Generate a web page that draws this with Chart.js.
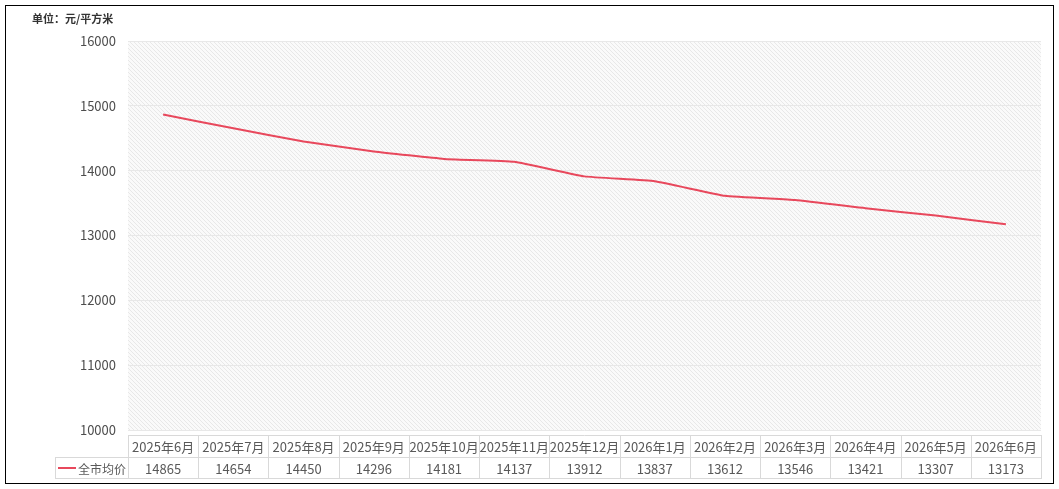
<!DOCTYPE html>
<html>
<head>
<meta charset="utf-8">
<script src="https://cdn.jsdelivr.net/npm/chart.js@4"></script>
<style>
  body { margin: 0; background: #fff; }
  #box { position: absolute; left: 5px; top: 5px; width: 1047px; height: 477px; border: 1px solid #000; }
  canvas { display: block; }
</style>
</head>
<body>
<div id="box"><canvas id="myChart" width="1047" height="477"></canvas></div>
<script>
const months = ['2025年6月', '2025年7月', '2025年8月', '2025年9月', '2025年10月', '2025年11月', '2025年12月',
  '2026年1月', '2026年2月', '2026年3月', '2026年4月', '2026年5月', '2026年6月'];
const avgPrice = [14865, 14654, 14450, 14296, 14181, 14137, 13912, 13837, 13612, 13546, 13421, 13307, 13173];
const seriesName = '全市均价';
const unitText = '单位：元/平方米';

const lineColor = 'rgb(232, 72, 92)';
const fontFamily = '"Noto Sans CJK SC", "Noto Sans", sans-serif';

// diagonal hatch for the plot area
const makeHatch = (ctx) => {
  const p = document.createElement('canvas');
  p.width = 4;
  p.height = 4;
  const pc = p.getContext('2d');
  pc.fillStyle = '#fafafa';
  pc.fillRect(0, 0, 4, 4);
  pc.fillStyle = '#e8e8e8';
  for (let i = 0; i < 4; i++) pc.fillRect(i, i, 1, 1);
  return ctx.createPattern(p, 'repeat');
};

const plotBackground = {
  id: 'plotBackground',
  beforeDraw(chart) {
    const { ctx, chartArea } = chart;
    ctx.save();
    ctx.fillStyle = makeHatch(ctx);
    ctx.fillRect(chartArea.left, chartArea.top, chartArea.right - chartArea.left, chartArea.bottom - chartArea.top);
    ctx.restore();
  },
};

const unitTitle = {
  id: 'unitTitle',
  afterDraw(chart) {
    const ctx = chart.ctx;
    ctx.save();
    ctx.font = 'bold 11px ' + fontFamily;
    ctx.fillStyle = '#333';
    ctx.textBaseline = 'middle';
    ctx.fillText(unitText, 26, 13);
    ctx.restore();
  },
};

// data table under the x axis, built from the x scale
const dataTable = {
  id: 'dataTable',
  afterDraw(chart) {
    const { ctx, chartArea } = chart;
    const x = chart.scales.x;
    const half = (x.getPixelForValue(1) - x.getPixelForValue(0)) / 2;
    const top = chartArea.bottom + 5;
    const rowH = 22;
    const legendLeft = 49;
    ctx.save();
    ctx.strokeStyle = '#d9d9d9';
    ctx.lineWidth = 1;
    ctx.beginPath();
    // horizontal lines
    ctx.moveTo(chartArea.left, top + 0.5);
    ctx.lineTo(chartArea.right, top + 0.5);
    ctx.moveTo(legendLeft, top + rowH + 0.5);
    ctx.lineTo(chartArea.right, top + rowH + 0.5);
    ctx.moveTo(legendLeft, top + rowH * 2 - 0.5);
    ctx.lineTo(chartArea.right, top + rowH * 2 - 0.5);
    // vertical lines
    ctx.moveTo(legendLeft + 0.5, top + rowH);
    ctx.lineTo(legendLeft + 0.5, top + rowH * 2);
    for (let i = 0; i <= months.length; i++) {
      const px = Math.round(x.getPixelForValue(i) - half) + 0.5;
      ctx.moveTo(px, top);
      ctx.lineTo(px, top + rowH * 2);
    }
    ctx.stroke();

    ctx.font = '13px ' + fontFamily;
    ctx.fillStyle = '#595959';
    ctx.textAlign = 'center';
    ctx.textBaseline = 'middle';
    for (let i = 0; i < months.length; i++) {
      const cx = x.getPixelForValue(i);
      ctx.fillText(months[i], cx, top + rowH / 2 + 1);
      ctx.fillText(String(avgPrice[i]), cx, top + rowH * 1.5 + 1);
    }
    // legend cell
    ctx.strokeStyle = lineColor;
    ctx.lineWidth = 2;
    ctx.beginPath();
    ctx.moveTo(legendLeft + 3, top + rowH * 1.5);
    ctx.lineTo(legendLeft + 21, top + rowH * 1.5);
    ctx.stroke();
    ctx.textAlign = 'left';
    ctx.font = '12px ' + fontFamily;
    ctx.fillText(seriesName, legendLeft + 23, top + rowH * 1.5 + 1);
    ctx.restore();
  },
};

const data = {
  labels: months,
  datasets: [
    {
      label: seriesName,
      borderColor: lineColor,
      backgroundColor: lineColor,
      borderWidth: 2,
      pointRadius: 0,
      tension: 0.12,
      data: avgPrice,
    },
  ],
};

const config = {
  type: 'line',
  data: data,
  options: {
    responsive: false,
    animation: false,
    layout: { padding: { top: 35, right: 12, bottom: 53, left: 0 } },
    plugins: {
      legend: { display: false },
      tooltip: { enabled: false },
    },
    scales: {
      x: {
        display: false,
        offset: true,
      },
      y: {
        min: 10000,
        max: 16000,
        afterFit: (scale) => { scale.width = 122; },
        grid: { color: '#e8e8e8', lineWidth: 1, drawTicks: false },
        border: { display: false },
        ticks: {
          stepSize: 1000,
          padding: 12,
          color: '#4d4d4d',
          font: { family: fontFamily, size: 13 },
          callback: (v) => String(v),
        },
      },
    },
  },
  plugins: [plotBackground, unitTitle, dataTable],
};

const myChart = new Chart(document.getElementById('myChart'), config);
</script>
</body>
</html>
